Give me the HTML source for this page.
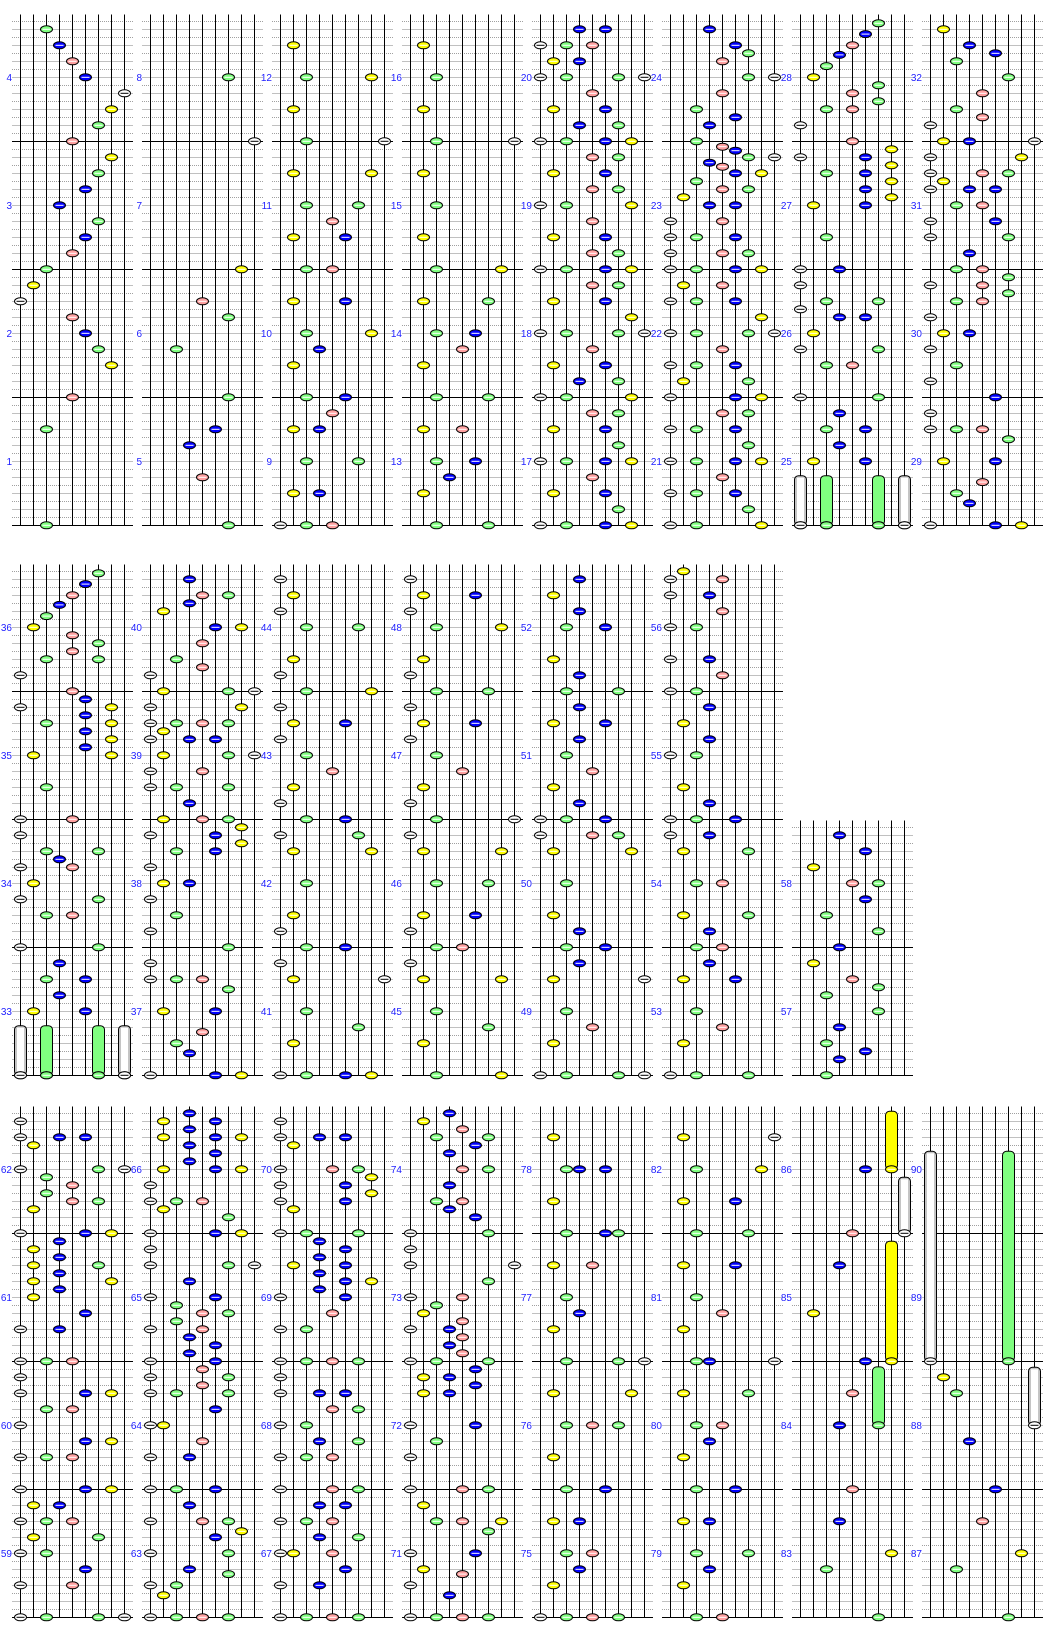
<!DOCTYPE html>
<html><head><meta charset="utf-8">
<style>
html,body{margin:0;padding:0;background:#fff;}
svg{display:block;}
text{font-family:"Liberation Sans",sans-serif;font-size:10px;fill:#2020ff;text-anchor:end;}
</style></head>
<body>
<svg id="s" width="1064" height="1644" viewBox="0 0 1064 1644" xmlns="http://www.w3.org/2000/svg">
<rect width="1064" height="1644" fill="#fff"/>
<g id="grid" shape-rendering="crispEdges"></g>
<g id="notes"></g>
<g>
<text x="12" y="81">4</text><text x="12" y="209">3</text><text x="12" y="337">2</text><text x="12" y="465">1</text>
<text x="142" y="81">8</text><text x="142" y="209">7</text><text x="142" y="337">6</text><text x="142" y="465">5</text>
<text x="272" y="81">12</text><text x="272" y="209">11</text><text x="272" y="337">10</text><text x="272" y="465">9</text>
<text x="402" y="81">16</text><text x="402" y="209">15</text><text x="402" y="337">14</text><text x="402" y="465">13</text>
<text x="532" y="81">20</text><text x="532" y="209">19</text><text x="532" y="337">18</text><text x="532" y="465">17</text>
<text x="662" y="81">24</text><text x="662" y="209">23</text><text x="662" y="337">22</text><text x="662" y="465">21</text>
<text x="792" y="81">28</text><text x="792" y="209">27</text><text x="792" y="337">26</text><text x="792" y="465">25</text>
<text x="922" y="81">32</text><text x="922" y="209">31</text><text x="922" y="337">30</text><text x="922" y="465">29</text>

<text x="12" y="631">36</text><text x="12" y="759">35</text><text x="12" y="887">34</text><text x="12" y="1015">33</text>
<text x="142" y="631">40</text><text x="142" y="759">39</text><text x="142" y="887">38</text><text x="142" y="1015">37</text>
<text x="272" y="631">44</text><text x="272" y="759">43</text><text x="272" y="887">42</text><text x="272" y="1015">41</text>
<text x="402" y="631">48</text><text x="402" y="759">47</text><text x="402" y="887">46</text><text x="402" y="1015">45</text>
<text x="532" y="631">52</text><text x="532" y="759">51</text><text x="532" y="887">50</text><text x="532" y="1015">49</text>
<text x="662" y="631">56</text><text x="662" y="759">55</text><text x="662" y="887">54</text><text x="662" y="1015">53</text>
<text x="792" y="887">58</text><text x="792" y="1015">57</text>

<text x="12" y="1173">62</text><text x="12" y="1301">61</text><text x="12" y="1429">60</text><text x="12" y="1557">59</text>
<text x="142" y="1173">66</text><text x="142" y="1301">65</text><text x="142" y="1429">64</text><text x="142" y="1557">63</text>
<text x="272" y="1173">70</text><text x="272" y="1301">69</text><text x="272" y="1429">68</text><text x="272" y="1557">67</text>
<text x="402" y="1173">74</text><text x="402" y="1301">73</text><text x="402" y="1429">72</text><text x="402" y="1557">71</text>
<text x="532" y="1173">78</text><text x="532" y="1301">77</text><text x="532" y="1429">76</text><text x="532" y="1557">75</text>
<text x="662" y="1173">82</text><text x="662" y="1301">81</text><text x="662" y="1429">80</text><text x="662" y="1557">79</text>
<text x="792" y="1173">86</text><text x="792" y="1301">85</text><text x="792" y="1429">84</text><text x="792" y="1557">83</text>
<text x="922" y="1173">90</text><text x="922" y="1301">89</text><text x="922" y="1429">88</text><text x="922" y="1557">87</text>
</g>
</svg>
<script>
(function(){
var T=[13.3,563.3,1105.3];
var COL=["#ffffff","#ffff00","#80ff80","#0000ff","#ffa0a0","#0000ff","#80ff80","#ffff00","#ffffff"];
var D={
"0,0":"2:2 4:3 6:4 8:5 10:8 12:7 14:6 16:4 18:7 20:6 22:5 24:3 26:6 28:5 30:4 32:2 34:1 36:0 38:4 40:5 42:6 44:7 48:4 52:2 64:2",
"0,1":"8:6 16:8 32:7 36:4 38:6 42:2 48:6 52:5 54:3 58:4 64:6",
"0,2":"4:1 8:27 12:1 16:28 20:17 24:26 26:4 28:15 32:24 36:15 40:27 42:3 44:1 48:25 50:4 52:13 56:26 60:13 64:024",
"0,3":"4:1 8:2 12:1 16:28 20:1 24:2 28:1 32:27 36:16 40:25 42:4 44:1 48:26 52:14 56:25 58:3 60:1 64:26",
"0,4":"2:35 4:024 6:13 8:0268 10:4 12:15 14:36 16:0257 18:46 20:15 22:46 24:027 26:4 28:15 30:46 32:0257 34:46 36:15 38:7 40:0268 42:4 44:15 46:36 48:027 50:46 52:15 54:6 56:0257 58:4 60:15 62:6 64:0257",
"0,5":"2:3 4:5 5:6 6:4 8:68 10:4 12:2 13:5 14:3 16:2 16.67:4 17.17:5 18:68 18.67:3 19.17:4 20:57 21:2 22:46 23:1 24:35 26:04 28:025 30:046 32:0257 34:14 36:025 38:7 40:0268 42:4 44:025 46:16 48:057 50:46 52:025 54:6 56:0257 58:4 60:025 62:6 64:027",
"0,6":"1.25:6 2.6:5 4:4 5.2:3 6.6:2 8:1 9:6 10:4 11:6 12:24 14:0 16:4 17:7 18:05 19:7 20:25 21:7 22:5 23:7 24:15 28:2 32:03 34:0 36:26 37:0 38:35 40:1 42:06 44:24 48:06 50:3 52:25 54:3 56:15 64:0268",
"0,7":"2:1 4:3 5:5 6:2 8:6 10:4 12:2 13:4 14:0 16:138 18:07 20:046 21:1 22:035 24:24 26:05 28:06 30:3 32:24 33:6 34:04 35:6 36:24 38:0 40:13 42:0 44:2 46:0 48:5 50:0 52:024 53.25:6 56:15 58.6:4 60:2 61.25:3 64:057",
"1,0":"1.25:6 2.6:5 4:4 5.2:3 6.6:2 8:1 9:4 10:6 11:4 12:26 14:0 16:4 17:5 18:07 19:5 20:27 21:5 22:7 23:5 24:17 28:2 32:04 34:0 36:26 37:3 38:04 40:1 42:06 44:24 48:06 50:3 52:25 54:3 56:15 64:0268",
"1,1":"2:3 4:46 5:3 6:1 8:57 10:4 12:2 13:4 14:0 16:168 18:07 20:0246 21:1 22:035 24:168 26:04 28:026 30:3 32:146 33:7 34:05 35:7 36:25 38:0 40:13 42:0 44:2 46:0 48:6 50:0 52:024 53.25:6 56:15 58.6:4 60:2 61.25:3 64:057",
"1,2":"2:0 4:1 6:0 8:26 12:1 14:0 16:27 18:0 20:15 22:0 24:2 26:4 28:1 30:0 32:25 34:06 36:17 40:2 44:1 46:0 48:25 50:0 52:18 56:2 58:6 60:1 64:0257",
"1,3":"2:0 4:15 6:0 8:27 12:1 14:0 16:26 18:0 20:15 22:0 24:2 26:4 28:1 30:0 32:28 34:0 36:17 40:26 44:15 46:0 48:24 50:0 52:17 56:2 58:6 60:1 64:27",
"1,4":"2:3 4:1 6:3 8:25 12:1 14:3 16:26 18:3 20:15 22:3 24:2 26:4 28:1 30:3 32:025 34:046 36:17 40:2 44:1 46:3 48:25 50:3 52:18 56:2 58:4 60:1 64:0268",
"1,5":"1:1 2:04 4:03 6:4 8:02 12:03 14:4 16:02 18:3 20:1 22:3 24:02 28:1 30:3 32:025 34:03 36:16 40:24 44:16 46:3 48:24 50:3 52:15 56:2 58:4 60:1 64:026",
"1,6":"34:3 36:5 38:1 40:46 42:5 44:2 46:6 48:3 50:1 52:4 53:6 54:2 56:6 58:3 60:2 61:5 62:3 64:2",
"2,0":"2:0 4:035 5:1 8:068 9:2 10:4 11:2 12:46 13:1 16:057 17:3 18:1 19:3 20:16 21:3 22:17 23:3 24:1 26:5 28:03 32:024 34:0 36:057 38:24 40:0 42:57 44:024 48:057 50:13 52:024 54:16 56:02 58:5 60:04 64:0268",
"2,1":"1:3 2:15 3:3 4:157 5:3 6:5 7:3 8:157 10:0 12:024 13:1 14:6 16:057 18:0 20:068 22:3 24:05 25:2 26:46 27:2 28:04 29:3 30:5 31:3 32:05 33:4 34:06 35:4 36:026 38:5 40:01 42:4 44:03 48:025 50:3 52:046 53.25:7 54:5 56:06 58:3 58.6:6 60:02 61.25:1 64:0246",
"2,2":"2:0 4:035 5:1 8:046 9:7 10:05 11:7 12:05 13:1 16:026 17:3 18:5 19:3 20:15 21:3 22:57 23:3 24:05 26:4 28:02 32:0246 34:0 36:035 38:46 40:02 42:36 44:024 48:046 50:35 52:024 54:36 56:014 58:5 60:03 64:0246",
"2,3":"1:3 2:1 3:4 4:26 5:5 6:3 8:46 10:3 12:24 13:3 14:5 16:06 18:0 20:08 22:6 24:04 25:2 26:1 27:4 28:03 29:4 30:3 31:4 32:026 33:5 34:13 35:5 36:13 40:05 42:2 44:0 48:046 50:1 52:247 53.25:6 56:05 58:1 58.6:4 60:0 61.25:3 64:0246",
"2,4":"4:1 8:235 12:1 16:256 20:14 24:2 26:3 28:1 32:268 36:17 40:246 44:1 48:25 52:13 56:24 58:3 60:1 64:0246",
"2,5":"4:18 8:27 12:15 16:26 20:15 24:2 26:4 28:1 32:238 36:16 40:24 42:3 44:1 48:25 52:13 56:26 58:3 60:1 64:24",
"2,6":"16:4 20:3 26:1 36:4 40:3 48:4 52:3 56:7 58:2 64:6",
"2,7":"34:1 36:2 42:3 48:5 52:4 56:7 58:2 64:6"
};
// long notes: [row,block,lane,qTop,qBottom]
var L=[[0,6,0,57.8,64],[0,6,2,57.8,64],[0,6,6,57.8,64],[0,6,8,57.8,64],
[1,0,0,57.8,64],[1,0,2,57.8,64],[1,0,6,57.8,64],[1,0,8,57.8,64],
[2,6,7,0.75,8],[2,6,8,9,16],[2,6,7,17,32],[2,6,6,32.7,40],
[2,7,0,5.75,32],[2,7,6,5.75,32],[2,7,8,32.75,40]];
// also heads that appear at bottoms of long notes in 2,6: blue5 at 8, 32 handled below
D["2,6"]+=" 8:5 32:5";
var g="",n="";
function lx(b,k){return 20.5+130*b+13*k;}
for(var r=0;r<3;r++){
 var nb=(r==1)?7:8;
 for(var b=0;b<nb;b++){
  var t=T[r], x0=12+130*b, x1=x0+121;
  var j0=(r==1&&b==6)?32:0;
  for(var j=j0+1;j<=64;j++){
   var y=(t+8*j).toFixed(1);
   if(j%16==0) g+='<line x1="'+x0+'" x2="'+x1+'" y1="'+y+'" y2="'+y+'" stroke="#000"/>';
   else if(j%2==0) g+='<line x1="'+x0+'" x2="'+x1+'" y1="'+y+'" y2="'+y+'" stroke="#c0c0c0"/>';
   else g+='<line x1="'+x0+'" x2="'+x1+'" y1="'+y+'" y2="'+y+'" stroke="#a0a0a0" stroke-dasharray="1 1"/>';
  }
  for(var k=0;k<9;k++){
   var x=lx(b,k);
   g+='<line x1="'+x+'" x2="'+x+'" y1="'+(t+8*j0+1).toFixed(1)+'" y2="'+(t+512).toFixed(1)+'" stroke="#000"/>';
  }
 }
}
function head(x,y,k){
 var s='<ellipse cx="'+x+'" cy="'+y+'" rx="6" ry="3.5" fill="'+COL[k]+'" stroke="#000" stroke-width="1"/>';
 s+='<line x1="'+(x-4)+'" x2="'+(x+4)+'" y1="'+y+'" y2="'+y+'" stroke="'+(k==0||k==8?'#000':'#fff')+'" stroke-width="1"/>';
 return s;
}
for(var i=0;i<L.length;i++){
 var a=L[i],t=T[a[0]],x=lx(a[1],a[2]),yt=t+8*a[3],yb=t+8*a[4],k=a[2];
 var white=(k==0||k==8);
 n+='<rect x="'+(x-6)+'" y="'+yt+'" width="12" height="'+(yb-yt)+'" rx="4" fill="'+(white?'#c4c4c4':COL[k])+'" stroke="#000"/>';
 if(white) n+='<rect x="'+(x-3.5)+'" y="'+(yt+2)+'" width="7" height="'+(yb-yt-2)+'" fill="#fff"/>';
 n+=head(x,yb,k);
}
for(var key in D){
 var p=key.split(","),r=+p[0],b=+p[1],t=T[r];
 var items=D[key].split(" ");
 for(var i=0;i<items.length;i++){
  var q=items[i].split(":"),y=(t+8*parseFloat(q[0])).toFixed(1);
  for(var c=0;c<q[1].length;c++){var k=+q[1][c];n+=head(lx(b,k),y,k);}
 }
}
document.getElementById("grid").innerHTML=g;
document.getElementById("notes").innerHTML=n;
})();
</script>
</body></html>
